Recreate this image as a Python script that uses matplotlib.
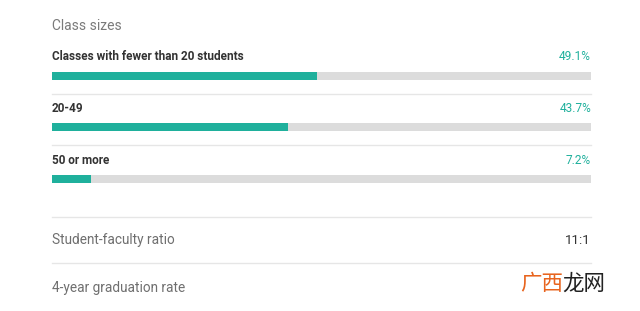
import matplotlib
matplotlib.use("Agg")
import matplotlib.pyplot as plt

# ---- data ----
title = "Class sizes"
categories = ["Classes with fewer than 20 students", "20-49", "50 or more"]
values = [49.1, 43.7, 7.2]
value_labels = ["49.1%", "43.7%", "7.2%"]
stat_names = ["Student-faculty ratio", "4-year graduation rate"]
stat_values = ["11:1", ""]
watermark_a = "广西"
watermark_b = "龙网"

# ---- style ----
W, H = 640, 311
TEAL = "#1fb09c"
TRACK = "#dcdcdc"
LINE = "#e6e6e6"
GREY = "#6f6f6f"
DARK = "#333333"
X0, X1 = 52, 591

fig = plt.figure(figsize=(W / 100, H / 100), dpi=100)
fig.patch.set_facecolor("white")

# overlay axes in pixel coordinates for text and separators
ax = fig.add_axes([0, 0, 1, 1])
ax.set_xlim(0, W)
ax.set_ylim(H, 0)
ax.axis("off")

# bar axes: x in percent, y in pixel rows
bx = fig.add_axes([X0 / W, 0, (X1 - X0) / W, 1])
bx.set_xlim(0, 100)
bx.set_ylim(H, 0)
bx.axis("off")

font = "Roboto"
ax.text(X0, 26, title, fontsize=10, color="#7a7a7a", family=font, va="center", ha="left")

label_y = [57, 109, 160]
bar_y = [76, 127, 179]
sep_y = [94, 145, 217, 263]

bx.barh(bar_y, [100] * len(values), height=8, left=0, color=TRACK, linewidth=0)
bx.barh(bar_y, values, height=8, left=0, color=TEAL, linewidth=0)

for cat, lab, ly in zip(categories, value_labels, label_y):
    ax.text(X0, ly, cat, fontsize=8.45, fontweight="bold", color=DARK, family=font,
            va="center", ha="left")
    ax.text(X1, ly, lab, fontsize=8.6, color=TEAL, family=font, va="center", ha="right")

for sy in sep_y:
    ax.plot([X0, X1], [sy, sy], color=LINE, linewidth=1)

stat_y = [240, 288]
for name, val, sy in zip(stat_names, stat_values, stat_y):
    ax.text(X0, sy, name, fontsize=9.8, color=GREY, family=font, va="center", ha="left")
    if val:
        ax.text(X1, sy, val, fontsize=9.6, color=DARK, family=font, va="center", ha="right")

# watermark
ax.text(520, 284, watermark_a, fontsize=15.5, color="#e8641e",
        family=["Noto Sans CJK SC", "DejaVu Sans"], va="center", ha="left")
ax.text(562, 284, watermark_b, fontsize=15.5, color="#222222",
        family=["Noto Sans CJK SC", "DejaVu Sans"], va="center", ha="left")

fig.savefig("out.png", dpi=100, facecolor="white")
